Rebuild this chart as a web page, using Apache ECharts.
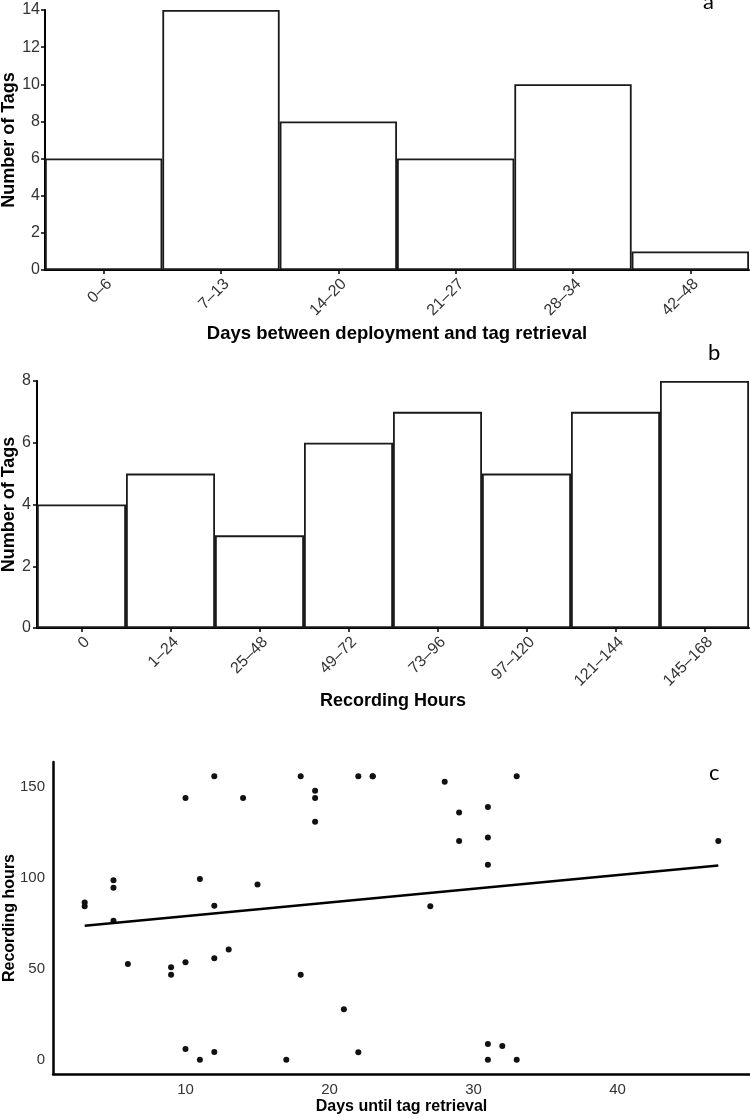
<!DOCTYPE html>
<html>
<head>
<meta charset="utf-8">
<script src="https://cdn.jsdelivr.net/npm/echarts@6/dist/echarts.min.js"></script>
<style>
html, body { margin: 0; padding: 0; background: #fff; }
#main { width: 750px; height: 1118px; }
</style>
</head>
<body>
<div id="main"></div>
<script>
// a: days between deployment and retrieval
var dayBins = ['0–6', '7–13', '14–20', '21–27', '28–34', '42–48'];
var dayCounts = [6, 14, 8, 6, 10, 1];

// b: recording hours
var hourBins = ['0', '1–24', '25–48', '49–72', '73–96', '97–120', '121–144', '145–168'];
var hourCounts = [4, 5, 3, 6, 7, 5, 7, 8];

// c: days until retrieval vs recording hours
var retrievalDays = [3, 3, 5, 5, 5, 6, 9, 9, 10, 10, 10, 11, 11, 12, 12, 12, 12, 13, 14, 15,
    17, 18, 18, 19, 19, 19, 21, 22, 22, 23, 23, 27, 28, 29, 29, 31, 31, 31, 31, 31, 32, 33, 33, 47];
var recordingHours = [86.5, 84.5, 98.8, 94.6, 76.5, 52.7, 50.9, 46.8, 144, 53.6, 6, 99.5, 0, 156, 84.7, 55.8, 4.3, 60.7, 144, 96.4,
    0, 156, 46.8, 148, 144, 131, 27.8, 156, 4.2, 156, 156, 84.5, 153, 136, 120.4, 139, 122.3, 107.3, 8.7, 0, 7.6, 156, 0, 120.4];
// fitted line, end points
var fitDays = [3, 47];
var fitHours = [73.8, 106.9];

var font = "'Liberation Sans', Arial, sans-serif";
var tickColor = '#333';

var points = [];
for (var i = 0; i < retrievalDays.length; i++) {
    points.push([retrievalDays[i], recordingHours[i]]);
}
var fitLine = [];
for (var j = 0; j < fitDays.length; j++) {
    fitLine.push([fitDays[j], fitHours[j]]);
}

function blackLine(w) {
    return {show: true, onZero: false, lineStyle: {color: '#000', width: w}};
}

var chart = echarts.init(document.getElementById('main'));

var option = {
    animation: false,
    backgroundColor: '#fff',
    textStyle: {fontFamily: font},
    grid: [
        {left: 45, right: 1, top: 10, height: 260, outerBoundsMode: 'none', containLabel: false},
        {left: 37, right: 1, top: 381, height: 247, outerBoundsMode: 'none', containLabel: false},
        {left: 53, right: 0, top: 762, height: 312, outerBoundsMode: 'none', containLabel: false}
    ],
    xAxis: [
        {
            gridIndex: 0, type: 'category', data: dayBins,
            axisLine: blackLine(2),
            axisTick: {show: true, alignWithLabel: true, length: 4, lineStyle: {color: '#000', width: 1.5}},
            axisLabel: {rotate: 45, margin: 6, verticalAlign: 'top', fontSize: 16, color: tickColor, fontFamily: font},
            name: 'Days between deployment and tag retrieval', nameLocation: 'middle', nameGap: 54, nameMoveOverlap: false,
            nameTextStyle: {fontSize: 18.5, fontWeight: 'bold', color: '#000', fontFamily: font}
        },
        {
            gridIndex: 1, type: 'category', data: hourBins,
            axisLine: blackLine(2),
            axisTick: {show: true, alignWithLabel: true, length: 4, lineStyle: {color: '#000', width: 1.5}},
            axisLabel: {rotate: 45, margin: 6, verticalAlign: 'top', fontSize: 16, color: tickColor, fontFamily: font},
            name: 'Recording Hours', nameLocation: 'middle', nameGap: 64, nameMoveOverlap: false,
            nameTextStyle: {fontSize: 18, fontWeight: 'bold', color: '#000', fontFamily: font}
        },
        {
            gridIndex: 2, type: 'value', min: 0.8, max: 49.2, minInterval: 10, maxInterval: 10,
            axisLine: blackLine(2.5),
            axisTick: {show: false},
            splitLine: {show: false},
            axisLabel: {
                margin: 8, fontSize: 15, color: tickColor, fontFamily: font,
                formatter: function (v) { return v % 10 === 0 ? String(v) : ''; }
            },
            name: 'Days until tag retrieval', nameLocation: 'middle', nameGap: 25, nameMoveOverlap: false,
            nameTextStyle: {fontSize: 16, fontWeight: 'bold', color: '#000', fontFamily: font}
        }
    ],
    yAxis: [
        {
            gridIndex: 0, type: 'value', min: 0, max: 14, interval: 2,
            axisLine: blackLine(2),
            axisTick: {show: true, length: 4, lineStyle: {color: '#000', width: 1.5}},
            splitLine: {show: false},
            axisLabel: {margin: 5, fontSize: 16, color: tickColor, fontFamily: font},
            name: 'Number of Tags', nameLocation: 'middle', nameGap: 27, nameMoveOverlap: false,
            nameTextStyle: {fontSize: 18, fontWeight: 'bold', color: '#000', fontFamily: font}
        },
        {
            gridIndex: 1, type: 'value', min: 0, max: 8, interval: 2,
            axisLine: blackLine(2),
            axisTick: {show: true, length: 4, lineStyle: {color: '#000', width: 1.5}},
            splitLine: {show: false},
            axisLabel: {margin: 6, fontSize: 16, color: tickColor, fontFamily: font},
            name: 'Number of Tags', nameLocation: 'middle', nameGap: 19, nameMoveOverlap: false,
            nameTextStyle: {fontSize: 18, fontWeight: 'bold', color: '#000', fontFamily: font}
        },
        {
            gridIndex: 2, type: 'value', min: -7.8, max: 163.8, minInterval: 50, maxInterval: 50,
            axisLine: blackLine(2.5),
            axisTick: {show: false},
            splitLine: {show: false},
            axisLabel: {
                margin: 8, fontSize: 15, color: tickColor, fontFamily: font,
                formatter: function (v) { return v % 50 === 0 ? String(v) : ''; }
            },
            name: 'Recording hours', nameLocation: 'middle', nameGap: 35, nameMoveOverlap: false,
            nameTextStyle: {fontSize: 16, fontWeight: 'bold', color: '#000', fontFamily: font}
        }
    ],
    series: [
        {
            type: 'bar', xAxisIndex: 0, yAxisIndex: 0, data: dayCounts,
            barCategoryGap: '0%',
            itemStyle: {color: '#fff', borderColor: '#1a1a1a', borderWidth: 1.8}
        },
        {
            type: 'bar', xAxisIndex: 1, yAxisIndex: 1, data: hourCounts,
            barCategoryGap: '0%',
            itemStyle: {color: '#fff', borderColor: '#1a1a1a', borderWidth: 1.8}
        },
        {
            type: 'scatter', xAxisIndex: 2, yAxisIndex: 2, data: points,
            symbolSize: 6,
            itemStyle: {color: '#111', opacity: 1}
        },
        {
            type: 'line', xAxisIndex: 2, yAxisIndex: 2, data: fitLine,
            showSymbol: false, symbol: 'none',
            lineStyle: {color: '#000', width: 2.5}
        }
    ],
    graphic: [
        {type: 'text', left: 703, top: -9, style: {text: 'a', fontSize: 22, fontFamily: 'Lato, sans-serif', fill: '#000'}},
        {type: 'text', left: 708, top: 342, style: {text: 'b', fontSize: 22, fontFamily: 'Lato, sans-serif', fill: '#000'}},
        {type: 'text', left: 709, top: 762, style: {text: 'c', fontSize: 22, fontFamily: 'Lato, sans-serif', fill: '#000'}}
    ]
};

chart.setOption(option);
</script>
</body>
</html>
